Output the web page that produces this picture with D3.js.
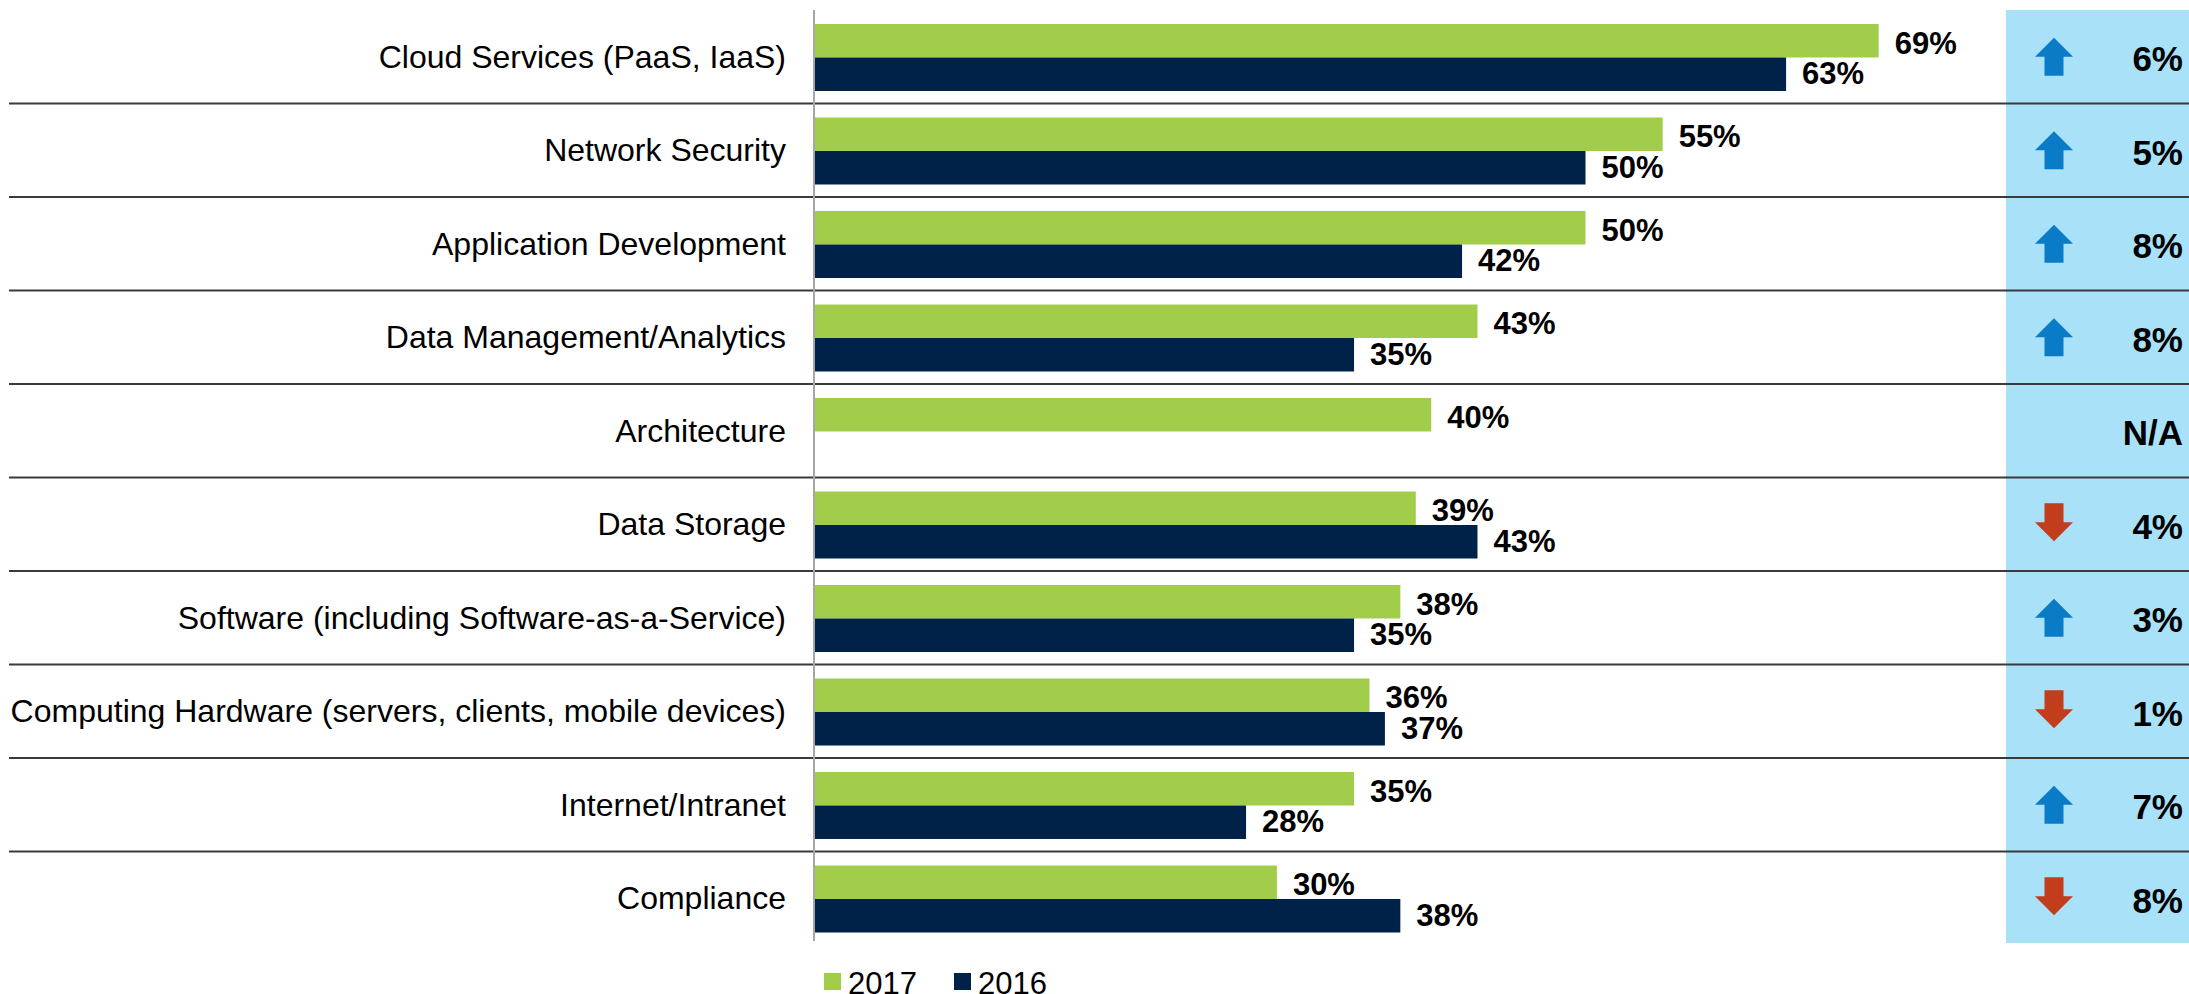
<!DOCTYPE html>
<html>
<head>
<meta charset="utf-8">
<script src="https://cdn.jsdelivr.net/npm/d3@7"></script>
<style>
  body { margin: 0; background: #fff; }
  text { font-family: "Liberation Sans", Arial, sans-serif; }
</style>
</head>
<body>
<div class="chart"></div>
<script>
// data
var categories = [
  'Cloud Services (PaaS, IaaS)',
  'Network Security',
  'Application Development',
  'Data Management/Analytics',
  'Architecture',
  'Data Storage',
  'Software (including Software-as-a-Service)',
  'Computing Hardware (servers, clients, mobile devices)',
  'Internet/Intranet',
  'Compliance'
];
var seriesNames = ['2017', '2016'];
var values2017 = [69, 55, 50, 43, 40, 39, 38, 36, 35, 30];
var values2016 = [63, 50, 42, 35, null, 43, 35, 37, 28, 38];
var changeDir = ['up', 'up', 'up', 'up', null, 'down', 'up', 'down', 'up', 'down'];
var changeText = ['6%', '5%', '8%', '8%', 'N/A', '4%', '3%', '1%', '7%', '8%'];

var width = 2189,
    height = 994;

var colors = {'2017': '#a1cd4a', '2016': '#002248'};

var svg = d3.select('.chart')
  .append('svg')
  .attr('width', width)
  .attr('height', height);

var rows = categories.map((c, i) => ({
  cat: c,
  vals: [values2017[i], values2016[i]],
  dir: changeDir[i],
  change: changeText[i]
}));

// SCALES
var xScale = d3.scaleLinear()
  .domain([0, 100])
  .range([814, 814 + 1543]);

var rowScale = d3.scaleBand()
  .domain(categories)
  .range([10, 945]);

var barScale = d3.scaleBand()
  .domain(seriesNames)
  .range([14, 81]);

// right hand panel
svg.append('rect')
  .attr('x', 2006)
  .attr('y', 10)
  .attr('width', width - 2006)
  .attr('height', 933)
  .attr('fill', '#a9e1f8');

// row separators
svg.selectAll('.sep')
  .data(categories.slice(1))
  .enter()
  .append('line')
  .attr('class', 'sep')
  .attr('x1', 9)
  .attr('x2', width)
  .attr('y1', (d) => rowScale(d))
  .attr('y2', (d) => rowScale(d))
  .attr('stroke', '#3a3a3a')
  .attr('stroke-width', 2);

var row = svg.selectAll('.row')
  .data(rows)
  .enter()
  .append('g')
  .attr('class', 'row')
  .attr('transform', (d) => 'translate(0,' + rowScale(d.cat) + ')');

// category labels
row.append('text')
  .attr('x', 786)
  .attr('y', rowScale.bandwidth() / 2)
  .attr('dy', '0.35em')
  .attr('text-anchor', 'end')
  .attr('font-size', 32)
  .attr('fill', '#000')
  .text((d) => d.cat);

//BARS
var bars = row.selectAll('.bar')
  .data((d) => seriesNames.map((s, i) => ({s: s, v: d.vals[i]})).filter((b) => b.v != null))
  .enter();

bars.append('rect')
  .attr('class', 'bar')
  .attr('x', xScale(0))
  .attr('y', (d) => barScale(d.s))
  .attr('width', (d) => xScale(d.v) - xScale(0))
  .attr('height', barScale.bandwidth())
  .attr('fill', (d) => colors[d.s]);

bars.append('text')
  .attr('x', (d) => xScale(d.v) + 16)
  .attr('y', (d) => barScale(d.s) + barScale.bandwidth() / 2 + (d.s == '2017' ? 2 : -1))
  .attr('dy', '0.36em')
  .attr('font-size', 31)
  .attr('font-weight', 'bold')
  .attr('fill', '#000')
  .text((d) => d.v + '%');

// change arrows
var arrowUp = 'M0,-19 L19,0 L9.5,0 L9.5,19 L-9.5,19 L-9.5,0 L-19,0 Z';
var arrowDown = 'M0,19 L19,0 L9.5,0 L9.5,-19 L-9.5,-19 L-9.5,0 L-19,0 Z';

row.filter((d) => d.dir)
  .append('path')
  .attr('transform', (d) => 'translate(2054,' + (rowScale.bandwidth() / 2 - (d.dir == 'up' ? 0 : 2)) + ')')
  .attr('d', (d) => d.dir == 'up' ? arrowUp : arrowDown)
  .attr('fill', (d) => d.dir == 'up' ? '#0a7bc6' : '#c13d1c');

row.append('text')
  .attr('x', 2183)
  .attr('y', rowScale.bandwidth() / 2 + 2)
  .attr('dy', '0.36em')
  .attr('text-anchor', 'end')
  .attr('font-size', 35)
  .attr('font-weight', 'bold')
  .attr('fill', '#000')
  .text((d) => d.change);

// vertical axis line
svg.append('line')
  .attr('x1', xScale(0))
  .attr('x2', xScale(0))
  .attr('y1', 10)
  .attr('y2', 941)
  .attr('stroke', '#a6a6a6')
  .attr('stroke-width', 2);

// LEGEND
var legendX = [824, 954];
var legend = svg.selectAll('.legend')
  .data(seriesNames)
  .enter()
  .append('g')
  .attr('class', 'legend')
  .attr('transform', (d, i) => 'translate(' + legendX[i] + ',973)');

legend.append('rect')
  .attr('width', 17)
  .attr('height', 17)
  .attr('fill', (d) => colors[d]);

legend.append('text')
  .attr('x', 24)
  .attr('y', 21)
  .attr('font-size', 31)
  .attr('fill', '#000')
  .text((d) => d);
</script>
</body>
</html>
